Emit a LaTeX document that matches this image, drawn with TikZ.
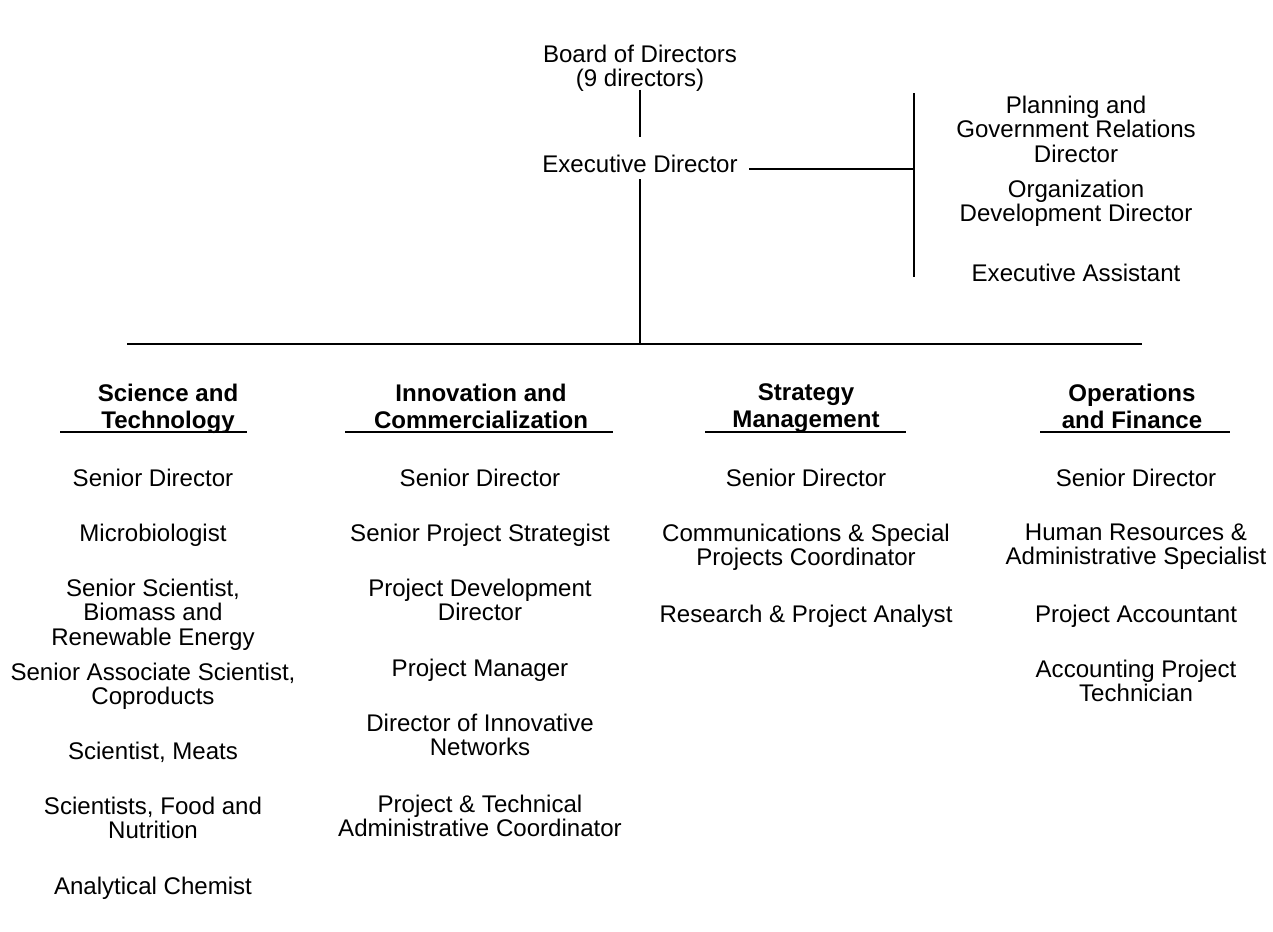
\documentclass[tikz,border=0pt]{standalone}
\usepackage{fontspec}
\setmainfont{Liberation Sans}

\begin{document}
\begin{tikzpicture}[x=0.02cm,y=-0.02cm,
  every node/.style={align=center,anchor=north,inner sep=0pt,font=\fontsize{13.7}{13.9}\selectfont},
  head/.style={font=\fontsize{13.7}{15.4}\selectfont\bfseries},
  link/.style={line width=1pt},
  rule/.style={line width=1.4pt}]
\useasboundingbox (0,0) rectangle (1273,931);

% top of the chart
\node (board) at (640,44.5) {Board of Directors\\(9 directors)};
\node (exec) at (640,154.5) {Executive Director};
\draw[link,shorten <=-1.4pt,shorten >=10pt] (board) -- (exec);

% staff reporting to the executive director
\node (plan) at (1076,95.5) {Planning and\\Government Relations\\Director};
\node (orgdev) at (1076,179.5) {Organization\\Development Director};
\node (asst) at (1076,263.5) {Executive Assistant};
\coordinate (stafftop) at (914,93);
\coordinate (staffbot) at (914,277);
\draw[link] (stafftop) -- (staffbot);
\draw[link,shorten <=6.5pt] ([yshift=-3.1pt]exec.east) coordinate (ej) -- (ej -| stafftop);

% bus to the divisions
\coordinate (busL) at (127,344);
\coordinate (busR) at (1142,344);
\coordinate (busmid) at (640,344);
\draw[link] (busL) -- (busR);
\draw[link,shorten <=3.6pt] (exec) -- (busmid);

% division headings
\foreach \n/\x/\ul/\ur/\txt in {sci/168/60/247/{Science and\\Technology},
    inn/481/345/613/{Innovation and\\Commercialization},
    str/806/705/906/{Strategy\\Management},
    ops/1132/1040/1230/{Operations\\and Finance}} {
  \node[head] (\n head) at (\x,383.5) {\txt};
  \coordinate (\n L) at (\ul,432);
  \coordinate (\n R) at (\ur,432);
  \draw[rule] (\n L) -- (\n R);
}

% Science and Technology
\foreach \i/\y/\txt in {1/468.5/Senior Director, 2/523.5/Microbiologist,
    3/578.5/{Senior Scientist,\\Biomass and\\Renewable Energy},
    4/662.5/{Senior Associate Scientist,\\Coproducts},
    5/741.5/{Scientist, Meats}, 6/796.5/{Scientists, Food and\\Nutrition},
    7/876.5/Analytical Chemist}
  \node (sci\i) at (153,\y) {\txt};

% Innovation and Commercialization
\foreach \i/\y/\txt in {1/468.5/Senior Director, 2/523.5/Senior Project Strategist,
    3/578.5/{Project Development\\Director}, 4/658.5/Project Manager,
    5/713.5/{Director of Innovative\\Networks},
    6/794.5/{Project \& Technical\\Administrative Coordinator}}
  \node (inn\i) at (480,\y) {\txt};

% Strategy Management
\foreach \i/\y/\txt in {1/468.5/Senior Director,
    2/523.5/{Communications \& Special\\Projects Coordinator},
    3/604.5/Research \& Project Analyst}
  \node (str\i) at (806,\y) {\txt};

% Operations and Finance
\foreach \i/\y/\txt in {1/468.5/Senior Director,
    2/523.5/{Human Resources \&\\Administrative Specialist},
    3/604.5/Project Accountant, 4/659.5/{Accounting Project\\Technician}}
  \node (ops\i) at (1136,\y) {\txt};
\end{tikzpicture}
\end{document}
